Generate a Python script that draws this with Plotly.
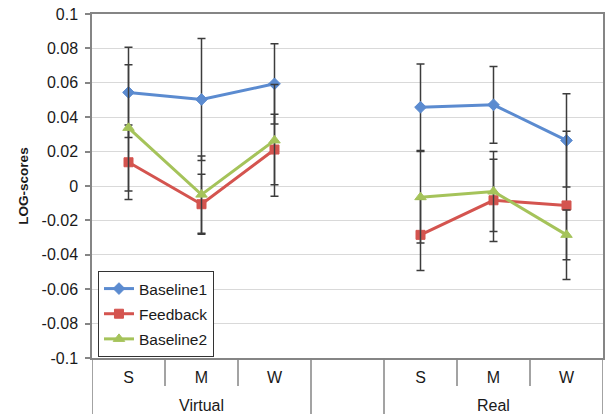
import plotly.graph_objects as go

# ---- data ----
categories = ["S", "M", "W", "", "S", "M", "W"]
groups = ["Virtual", "Virtual", "Virtual", "", "Real", "Real", "Real"]
group_labels = ["Virtual", "Real"]

baseline1 = [0.0544, 0.0503, 0.0594, None, 0.0458, 0.0472, 0.0265]
feedback = [0.0138, -0.0106, 0.0212, None, -0.0284, -0.0083, -0.0113]
baseline2 = [0.0338, -0.0050, 0.0265, None, -0.0065, -0.0032, -0.0284]

baseline1_err = [0.0262, 0.0355, 0.0233, None, 0.0252, 0.0223, 0.0271]
feedback_err = [0.0216, 0.0175, 0.0205, None, 0.0207, 0.0239, 0.0431]
baseline2_err = [0.0367, 0.0225, 0.0325, None, 0.0266, 0.0233, 0.0145]

y_ticks = [-0.1, -0.08, -0.06, -0.04, -0.02, 0, 0.02, 0.04, 0.06, 0.08, 0.1]
y_tick_labels = ["-0.1", "-0.08", "-0.06", "-0.04", "-0.02", "0",
                 "0.02", "0.04", "0.06", "0.08", "0.1"]

# ---- figure ----
W, H = 606, 414
ML, MR, MT, MB = 92, 1, 14, 56
plot_h = H - MT - MB
axis_y = H - MB

xpos = list(range(len(categories)))
FONT = "Liberation Sans, Arial, sans-serif"
TXT = "#1a1a1a"
ERR_COL = "#3c3c3c"
AXIS_COL = "#858585"

series = [
    ("Baseline1", baseline1, baseline1_err, "#5b8bd0", "diamond", 9),
    ("Feedback", feedback, feedback_err, "#d4544f", "square", 9),
    ("Baseline2", baseline2, baseline2_err, "#a5c35a", "triangle-up", 10),
]

fig = go.Figure()
for name, vals, errs, col, sym, ms in series:
    fig.add_trace(go.Scatter(
        x=xpos, y=vals, name=name, mode="lines+markers",
        legendgroup=name,
        line=dict(color=col, width=3),
        marker=dict(symbol=sym, size=ms, color=col, line=dict(color=col, width=1)),
        error_y=dict(type="data", array=errs, visible=True,
                     color=ERR_COL, thickness=1.5, width=4),
        connectgaps=False,
    ))

shapes = []
short_len = (386 - axis_y) / plot_h
# short boundaries between sub-categories
for b in [0.5, 1.5, 4.5, 5.5]:
    shapes.append(dict(type="line", xref="x", yref="paper", x0=b, x1=b,
                       y0=0, y1=-short_len,
                       line=dict(color=AXIS_COL, width=1.5)))
# long group boundaries
for b in [-0.5, 2.5, 3.5, 6.5]:
    shapes.append(dict(type="line", xref="x", yref="paper", x0=b, x1=b,
                       y0=0, y1=-0.25, line=dict(color=AXIS_COL, width=1.5)))

annotations = []
group_centers = [1, 5]
label_y = -(405 - axis_y) / plot_h
for gx, gl in zip(group_centers, group_labels):
    annotations.append(dict(x=gx, y=label_y, xref="x", yref="paper",
                            text=gl, showarrow=False, yanchor="middle",
                            font=dict(family=FONT, size=16, color=TXT)))

tick_pos = [i for i, c in enumerate(categories) if c]
tick_txt = [c for c in categories if c]

fig.update_layout(
    width=W, height=H,
    margin=dict(l=ML, r=MR, t=MT, b=MB),
    paper_bgcolor="white", plot_bgcolor="white",
    font=dict(family=FONT, size=16, color=TXT),
    showlegend=True,
    legend=dict(
        x=(98 - ML) / (W - ML - MR), y=(axis_y - 271) / plot_h,
        xanchor="left", yanchor="top",
        bgcolor="white", bordercolor="#333333", borderwidth=1,
        font=dict(family=FONT, size=15.5, color=TXT),
        tracegroupgap=2, traceorder="grouped", itemwidth=30,
    ),
    xaxis=dict(
        range=[-0.5, 6.5], tickmode="array", tickvals=tick_pos, ticktext=tick_txt,
        showgrid=False, zeroline=False, ticks="",
        showline=True, linecolor=AXIS_COL, linewidth=1.5, mirror=True,
        ticklabelstandoff=4,
        tickfont=dict(family=FONT, size=16, color=TXT),
    ),
    yaxis=dict(
        range=[-0.1, 0.1], tickmode="array", tickvals=y_ticks, ticktext=y_tick_labels,
        showgrid=True, gridcolor="#d9d9d9", gridwidth=1, zeroline=False,
        ticks="outside", ticklen=5, tickcolor=AXIS_COL, tickwidth=1.5,
        showline=True, linecolor=AXIS_COL, linewidth=1.5, mirror=True,
        ticklabelstandoff=4,
        tickfont=dict(family=FONT, size=16, color=TXT),
        title=dict(text="<b>LOG-scores</b>", standoff=10,
                   font=dict(family=FONT, size=13.5, color=TXT)),
    ),
    shapes=shapes,
    annotations=annotations,
)

fig.write_html("out.html")
